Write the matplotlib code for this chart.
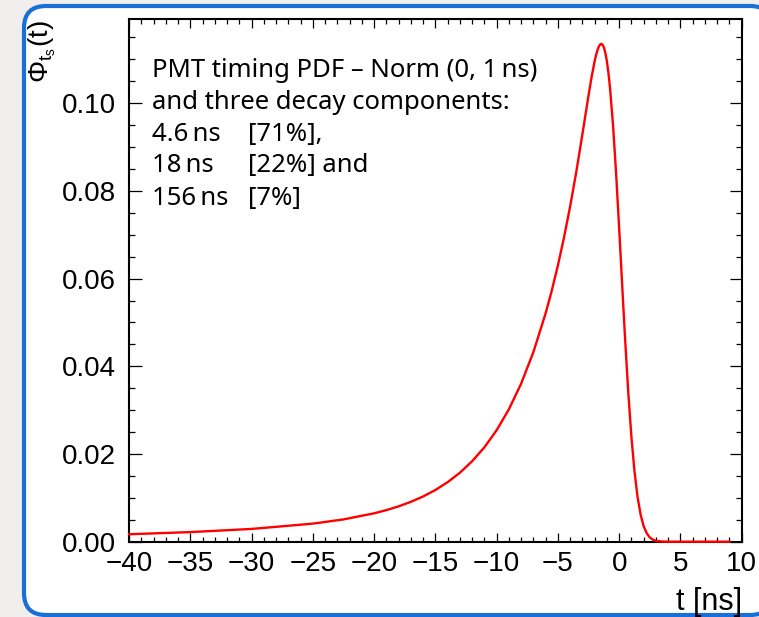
import matplotlib
matplotlib.use("Agg")
import matplotlib.pyplot as plt
from matplotlib.patches import FancyBboxPatch
from matplotlib.ticker import MultipleLocator, FormatStrFormatter

# ---- data ----
t_ns = [-40, -35, -30, -25, -22.5, -20, -19, -18, -17, -16, -15, -14, -13, -12,
        -11, -10, -9, -8, -7, -6, -5.5, -5, -4.5, -4, -3.5, -3, -2.75, -2.5,
        -2.25, -2, -1.875, -1.75, -1.625, -1.5, -1.375, -1.25, -1.125, -1,
        -0.875, -0.75, -0.5, -0.25, 0, 0.25, 0.5, 0.75, 1, 1.25, 1.5, 1.75,
        2, 2.25, 2.5, 2.75, 3, 3.5, 4, 5, 9]
phi = [0.00170, 0.00219, 0.00291, 0.00412, 0.00508, 0.00647, 0.00720, 0.00806,
       0.00909, 0.01031, 0.01179, 0.01357, 0.01572, 0.01834, 0.02152, 0.02542,
       0.03019, 0.03604, 0.04323, 0.05209, 0.05726, 0.06300, 0.06939, 0.07647,
       0.08432, 0.09289, 0.09734, 0.10176, 0.10596, 0.10960, 0.11109, 0.11229,
       0.11312, 0.11351, 0.11342, 0.11275, 0.11147, 0.10953, 0.10691, 0.10359,
       0.09496, 0.08402, 0.07149, 0.05831, 0.04546, 0.03379, 0.02390, 0.01608,
       0.01023, 0.00618, 0.00353, 0.00191, 0.00097, 0.00047, 0.00021, 0.00004,
       0.000005, 0.0, 0.0]

x_major = 5
y_major = 0.02
annotation_lines = ["PMT timing PDF \u2013 Norm (0, 1\u2009ns)",
                    "and three decay components:"]
decay_times = ["4.6\u2009ns", "18\u2009ns", "156\u2009ns"]
decay_fracs = ["[71%],", "[22%] and", "[7%]"]

W, H = 759, 617
plt.rcParams['mathtext.fontset'] = 'custom'
plt.rcParams['mathtext.rm'] = 'Liberation Sans'
plt.rcParams['mathtext.it'] = 'Liberation Sans:italic'

fig = plt.figure(figsize=(W / 100, H / 100), dpi=100)
fig.patch.set_facecolor('#f0efee')

# rounded blue frame (pixel -> inch coordinates)
frame = FancyBboxPatch((24 / 100, (H - 615) / 100), (772 - 24) / 100, (615 - 6) / 100,
                       boxstyle="round,pad=0,rounding_size=0.22",
                       transform=fig.dpi_scale_trans, facecolor='white',
                       edgecolor='#1a6ed8', linewidth=3.0, zorder=-5)
fig.patches.append(frame)

L, R, T, B = 129, 741.7, 19, 541.7
ax = fig.add_axes([L / W, (H - B) / H, (R - L) / W, (B - T) / H])
ax.set_facecolor('white')

ax.plot(t_ns, phi, color='#ff0000', linewidth=1.7, clip_on=False, zorder=3,
        solid_joinstyle='round')

ax.set_xlim(-40, 10)
ax.set_ylim(0, 0.1192)
ax.xaxis.set_major_locator(MultipleLocator(x_major))
ax.xaxis.set_minor_locator(MultipleLocator(1))
ax.yaxis.set_major_locator(MultipleLocator(y_major))
ax.yaxis.set_minor_locator(MultipleLocator(0.005))
ax.yaxis.set_major_formatter(FormatStrFormatter('%.2f'))

for s in ax.spines.values():
    s.set_linewidth(1.5)
    s.set_color('black')

ax.tick_params(axis='both', which='both', direction='in', top=True, right=True,
               colors='black', width=0.9)
ax.tick_params(axis='x', which='major', length=6.5, pad=6.5)
ax.tick_params(axis='x', which='minor', length=3.3)
ax.tick_params(axis='y', which='major', length=9, pad=9.5)
ax.tick_params(axis='y', which='minor', length=4.4)
for lab in ax.get_xticklabels() + ax.get_yticklabels():
    lab.set_fontfamily('Liberation Sans')
    lab.set_fontsize(20)

# axis titles
fig.text(R / W, (H - 610) / H, 't [ns]', ha='right', va='baseline',
         fontsize=22, family='Liberation Sans')
fig.text(26 / W, 1 - 20 / H, r'$\Phi_{\mathrm{t}_{\mathrm{s}}}(\mathrm{t})$', rotation=90,
         ha='left', va='top', fontsize=20)

# annotation text
fam = ['Noto Sans', 'DejaVu Sans']
fs = 18.5
baselines = [77.3, 109.0, 140.7, 171.7, 205.0]
fig.text(152 / W, 1 - baselines[0] / H, annotation_lines[0], fontsize=fs,
         family=fam, va='baseline', ha='left')
fig.text(152 / W, 1 - baselines[1] / H, annotation_lines[1], fontsize=fs,
         family=fam, va='baseline', ha='left')
frac_x = [248, 248, 248]
for i in range(3):
    yb = 1 - baselines[2 + i] / H
    fig.text(152 / W, yb, decay_times[i], fontsize=fs, family=fam,
             va='baseline', ha='left')
    fig.text(frac_x[i] / W, yb, decay_fracs[i], fontsize=fs, family=fam,
             va='baseline', ha='left')

fig.savefig('out.png', dpi=100, facecolor=fig.get_facecolor())
